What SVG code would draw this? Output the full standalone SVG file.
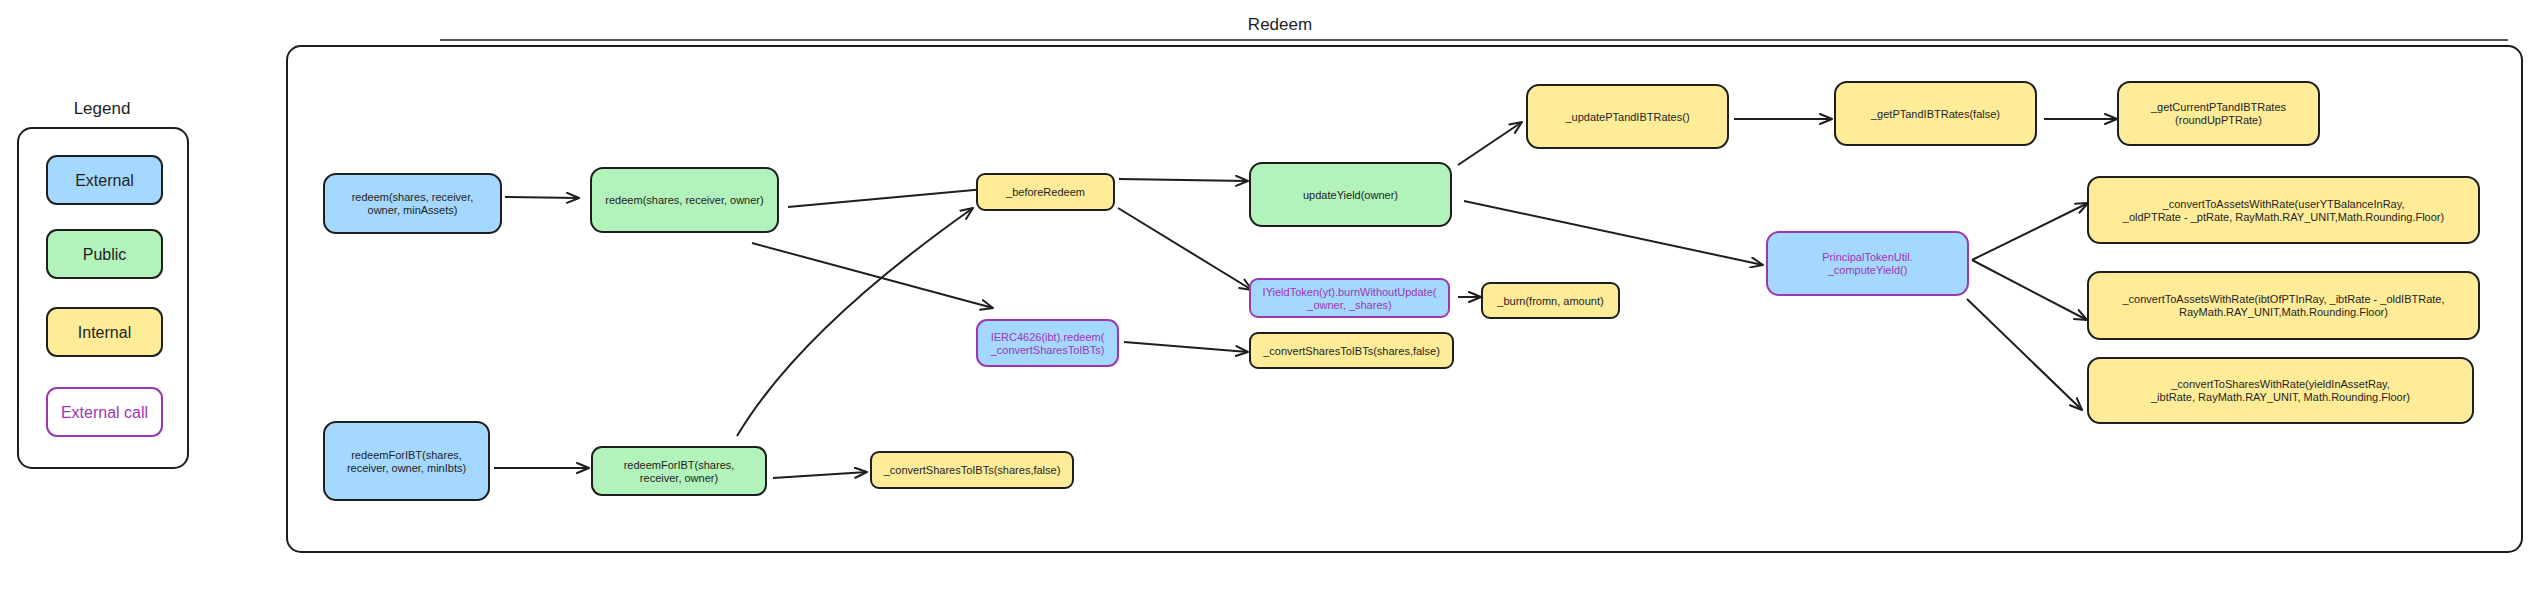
<svg xmlns="http://www.w3.org/2000/svg" width="2546" height="600" viewBox="0 0 2546 600">
<style>
.ext{fill:#a5d8ff;stroke:#1e1e1e;stroke-width:2}
.pub{fill:#b2f2bb;stroke:#1e1e1e;stroke-width:2}
.int{fill:#ffec99;stroke:#1e1e1e;stroke-width:2}
.call{fill:#a5d8ff;stroke:#9c36b5;stroke-width:2}
.callw{fill:#ffffff;stroke:#9c36b5;stroke-width:2}
.frame{fill:none;stroke:#1e1e1e;stroke-width:2}
.t{font-family:"Liberation Sans",Arial,sans-serif;font-size:11px;fill:#1e1e1e;text-anchor:middle}
.lg{font-family:"Liberation Sans",Arial,sans-serif;font-size:16px;fill:#1e1e1e;text-anchor:middle}
.title{font-family:"Liberation Sans",Arial,sans-serif;font-size:17px;fill:#1e1e1e;text-anchor:middle}
.tp{fill:#9c36b5}
.edge{fill:none;stroke:#1e1e1e;stroke-width:2;marker-end:url(#arr)}
</style>
<defs>
<marker id="arr" viewBox="0 0 14 12" refX="13" refY="6" markerWidth="14" markerHeight="12" markerUnits="userSpaceOnUse" orient="auto">
<path d="M1,1 L13,6 L1,11" fill="none" stroke="#1e1e1e" stroke-width="2" stroke-linecap="round" stroke-linejoin="round"/>
</marker>
</defs>
<rect width="2546" height="600" fill="#ffffff"/>

<g id="legend">
<text class="title" x="102" y="114">Legend</text>
<rect class="frame" x="18" y="128" width="170" height="340" rx="14"/>
<rect class="ext" x="47" y="156" width="115" height="48" rx="10"/>
<text class="lg" x="104.5" y="185.5">External</text>
<rect class="pub" x="47" y="230" width="115" height="48" rx="10"/>
<text class="lg" x="104.5" y="259.5">Public</text>
<rect class="int" x="47" y="308" width="115" height="48" rx="10"/>
<text class="lg" x="104.5" y="337.5">Internal</text>
<rect class="callw" x="47" y="388" width="115" height="48" rx="10"/>
<text class="lg tp" x="104.5" y="417.5">External call</text>
</g>

<g id="redeem-frame">
<text class="title" x="1280" y="30">Redeem</text>
<rect class="frame" x="287" y="46" width="2235" height="506" rx="14"/>
<line x1="440" y1="40" x2="2508" y2="40" stroke="#1e1e1e" stroke-width="1.5"/>
</g>

<g id="connectors">
<path class="edge" d="M505,197 L579,198"/>
<path class="edge" d="M494,468 L589,468"/>
<path class="edge" d="M788,207 L996,188"/>
<path class="edge" d="M752,243 L993,308"/>
<path class="edge" d="M737,436 Q800,330 973,208"/>
<path class="edge" d="M773,478 L867,472"/>
<path class="edge" d="M1119,179 L1248,181"/>
<path class="edge" d="M1118,208 L1252,290"/>
<path class="edge" d="M1124,342 L1248,352"/>
<path class="edge" d="M1458,297 L1481,297"/>
<path class="edge" d="M1458,165 L1522,122"/>
<path class="edge" d="M1464,201 L1763,265"/>
<path class="edge" d="M1734,119 L1832,119"/>
<path class="edge" d="M2044,119 L2117,119"/>
<path class="edge" d="M1972,260 L2088,203"/>
<path class="edge" d="M1972,260 L2087,320"/>
<path class="edge" d="M1967,299 L2082,410"/>
</g>

<g id="n-redeem-ext">
<rect class="ext" x="324" y="174" width="177" height="59" rx="12"/>
<text class="t" x="412.5" y="201">redeem(shares, receiver,</text>
<text class="t" x="412.5" y="214">owner, minAssets)</text>
</g>
<g id="n-redeem-pub">
<rect class="pub" x="591" y="168" width="187" height="64" rx="12"/>
<text class="t" x="684.5" y="204">redeem(shares, receiver, owner)</text>
</g>
<g id="n-redeemForIBT-ext">
<rect class="ext" x="324" y="422" width="165" height="78" rx="12"/>
<text class="t" x="406.5" y="458.5">redeemForIBT(shares,</text>
<text class="t" x="406.5" y="471.5">receiver, owner, minIbts)</text>
</g>
<g id="n-redeemForIBT-pub">
<rect class="pub" x="592" y="447" width="174" height="48" rx="10"/>
<text class="t" x="679" y="468.5">redeemForIBT(shares,</text>
<text class="t" x="679" y="481.5">receiver, owner)</text>
</g>
<g id="n-beforeRedeem">
<rect class="int" x="977" y="174" width="137" height="36" rx="8"/>
<text class="t" x="1045.5" y="196">_beforeRedeem</text>
</g>
<g id="n-ierc4626">
<rect class="call" x="977" y="320" width="141" height="46" rx="10"/>
<text class="t tp" x="1047.5" y="340.5">IERC4626(ibt).redeem(</text>
<text class="t tp" x="1047.5" y="353.5">_convertSharesToIBTs)</text>
</g>
<g id="n-convert-bottom">
<rect class="int" x="871" y="452" width="202" height="36" rx="8"/>
<text class="t" x="972" y="474">_convertSharesToIBTs(shares,false)</text>
</g>
<g id="n-updateYield">
<rect class="pub" x="1250" y="163" width="201" height="63" rx="12"/>
<text class="t" x="1350.5" y="198.5">updateYield(owner)</text>
</g>
<g id="n-iyieldtoken">
<rect class="call" x="1250" y="279" width="199" height="38" rx="8"/>
<text class="t tp" x="1349.5" y="295.5">IYieldToken(yt).burnWithoutUpdate(</text>
<text class="t tp" x="1349.5" y="308.5">_owner, _shares)</text>
</g>
<g id="n-burn">
<rect class="int" x="1482" y="283" width="137" height="35" rx="8"/>
<text class="t" x="1550.5" y="304.5">_burn(fromn, amount)</text>
</g>
<g id="n-convert-mid">
<rect class="int" x="1250" y="333" width="203" height="35" rx="8"/>
<text class="t" x="1351.5" y="354.5">_convertSharesToIBTs(shares,false)</text>
</g>
<g id="n-updatePT">
<rect class="int" x="1527" y="85" width="201" height="63" rx="12"/>
<text class="t" x="1627.5" y="120.5">_updatePTandIBTRates()</text>
</g>
<g id="n-getPT">
<rect class="int" x="1835" y="82" width="201" height="63" rx="12"/>
<text class="t" x="1935.5" y="117.5">_getPTandIBTRates(false)</text>
</g>
<g id="n-getCurrent">
<rect class="int" x="2118" y="82" width="201" height="63" rx="12"/>
<text class="t" x="2218.5" y="111">_getCurrentPTandIBTRates</text>
<text class="t" x="2218.5" y="124">(roundUpPTRate)</text>
</g>
<g id="n-ptu">
<rect class="call" x="1767" y="232" width="201" height="63" rx="12"/>
<text class="t tp" x="1867.5" y="261">PrincipalTokenUtil.</text>
<text class="t tp" x="1867.5" y="274">_computeYield()</text>
</g>
<g id="n-conv1">
<rect class="int" x="2088" y="177" width="391" height="66" rx="12"/>
<text class="t" x="2283.5" y="207.5">_convertToAssetsWithRate(userYTBalanceInRay,</text>
<text class="t" x="2283.5" y="220.5">_oldPTRate - _ptRate, RayMath.RAY_UNIT,Math.Rounding.Floor)</text>
</g>
<g id="n-conv2">
<rect class="int" x="2088" y="272" width="391" height="67" rx="12"/>
<text class="t" x="2283.5" y="303">_convertToAssetsWithRate(ibtOfPTInRay, _ibtRate - _oldIBTRate,</text>
<text class="t" x="2283.5" y="316">RayMath.RAY_UNIT,Math.Rounding.Floor)</text>
</g>
<g id="n-conv3">
<rect class="int" x="2088" y="358" width="385" height="65" rx="12"/>
<text class="t" x="2280.5" y="388">_convertToSharesWithRate(yieldInAssetRay,</text>
<text class="t" x="2280.5" y="401">_ibtRate, RayMath.RAY_UNIT, Math.Rounding.Floor)</text>
</g>
</svg>
